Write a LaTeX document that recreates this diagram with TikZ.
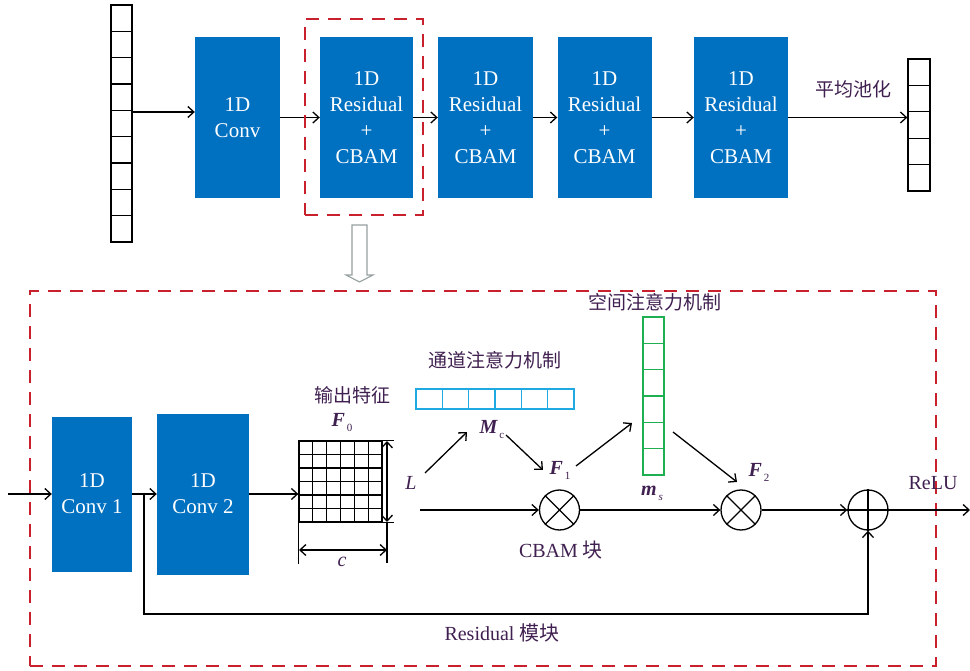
\documentclass[tikz,border=0pt]{standalone}
\usepackage{fontspec}
\setmainfont{Liberation Serif}
\newfontfamily\cjk{Noto Sans CJK SC}
\usetikzlibrary{arrows.meta}
\definecolor{blk}{RGB}{0,112,192}
\definecolor{rd}{RGB}{200,32,44}
\definecolor{pur}{RGB}{64,32,80}
\definecolor{cy}{RGB}{30,170,225}
\definecolor{gr}{RGB}{30,175,80}
\definecolor{gy}{RGB}{150,160,160}
\newcommand{\symlab}[2]{{\bfseries\itshape #1}\hspace{2pt}\raisebox{-5pt}{\fontsize{11}{11}\selectfont #2}}
\begin{document}
\begin{tikzpicture}[x=1pt,y=-1pt,
 block/.style={fill=blk, text=white, inner sep=0pt, align=center, font=\fontsize{21}{26}\selectfont},
 conn/.style={line width=1.3pt, -{Straight Barb[length=6pt,width=11pt]}},
 dimarr/.style={line width=1.3pt, {Straight Barb[length=6pt,width=11pt]}-{Straight Barb[length=6pt,width=11pt]}},
 ln/.style={line width=1.3pt},
 vecbox/.style={draw, line width=1.3pt, inner sep=0pt},
 reddash/.style={draw=rd, line width=1.6pt, dash pattern=on 13pt off 9pt, inner sep=0pt},
 lab/.style={text=pur, inner sep=0pt, font=\fontsize{20}{24}\selectfont},
 cjklab/.style={text=pur, inner sep=0pt, font=\cjk\fontsize{19}{22}\selectfont},
 opc/.style={circle, draw, line width=1.3pt, minimum size=40pt, inner sep=0pt},
]
\useasboundingbox (0,0) rectangle (970,671);

% ---------- top row ----------
\node[vecbox, minimum width=21pt, minimum height=237pt] (vin) at (121.5,123.5) {};
\foreach \i in {1,...,8} \draw[ln] (111,{5+\i*26.33}) -- (132,{5+\i*26.33});

\node[block, minimum width=85pt, minimum height=161pt] (conv) at (237.5,117.5) {1D\\Conv};
\node[block, minimum width=93pt, minimum height=161pt] (res1) at (366.5,117.5) {1D\\Residual\\+\\CBAM};
\node[block, minimum width=95pt, minimum height=161pt] (res2) at (485.5,117.5) {1D\\Residual\\+\\CBAM};
\node[block, minimum width=94pt, minimum height=161pt] (res3) at (604.5,117.5) {1D\\Residual\\+\\CBAM};
\node[block, minimum width=94pt, minimum height=161pt] (res4) at (741,117.5) {1D\\Residual\\+\\CBAM};

\node[vecbox, minimum width=22pt, minimum height=132pt] (vout) at (919,125) {};
\foreach \i in {1,...,4} \draw[ln] (908,{59+\i*26.4}) -- (930,{59+\i*26.4});

\coordinate (vinA) at (132,112);
\draw[conn] (vinA) -- (vinA -| conv.west);
\draw[conn] (conv.east) -- (res1.west);
\draw[conn] (res1.east) -- (res2.west);
\draw[conn] (res2.east) -- (res3.west);
\draw[conn] (res3.east) -- (res4.west);
\draw[conn] (res4.east) -- (res4.east -| vout.west);
\node[cjklab] (pool) at (853,89) {平均池化};

\node[reddash, minimum width=118pt, minimum height=196pt] (sel) at (364,117) {};

% hollow arrow
\draw[gy, line width=1.1pt, line join=miter] (352,225) -- (367,225) -- (367,275) -- (373,275) -- (359.5,282) -- (346,275) -- (352,275) -- cycle;

% ---------- detail ----------
\node[reddash, minimum width=906pt, minimum height=375pt] (detail) at (483,478.5) {};

\node[block, minimum width=80pt, minimum height=155pt] (conv1) at (92,494) {1D\\Conv 1};
\node[block, minimum width=92pt, minimum height=161pt] (conv2) at (203,494) {1D\\Conv 2};

\coordinate (inB) at (8,494);
\draw[conn] (inB) -- (inB -| conv1.west);
\draw[conn] (conv1.east) -- (conv2.west);

% grid F0
\node[draw, line width=1.3pt, minimum width=83pt, minimum height=81pt, inner sep=0pt] (grid) at (340.5,481.5) {};
\foreach \i in {1,...,5} {
  \draw[ln] ({299+\i*13.83},441) -- ({299+\i*13.83},522);
  \draw[ln] (299,{441+\i*13.5}) -- (382,{441+\i*13.5});
}
\draw[conn] (conv2.east) -- (conv2.east -| grid.west);
\draw[ln] (grid.north east) -- ++(11,0);
\draw[ln] (grid.south east) -- ++(11,0);
\draw[ln] (grid.south west) -- ++(0,41);
\draw[ln] (387,522) -- (387,563);
\draw[dimarr] (387,441) -- (387,522);
\draw[dimarr] (299,550) -- (387,550);

\node[cjklab] (outf) at (352,395) {输出特征};
\node[lab] (F0) at (342,423) {\symlab{F}{0}};
\node[lab, font=\fontsize{20}{24}\selectfont\itshape] (Lb) at (411,483) {L};
\node[lab, font=\fontsize{20}{24}\selectfont\itshape] (cb) at (342,562) {c};

% channel attention vector
\node[draw=cy, line width=1.4pt, minimum width=158pt, minimum height=20pt, inner sep=0pt] (cav) at (495,399) {};
\foreach \i in {1,...,5} \draw[cy, line width=1.4pt] ({416+\i*26.33},389) -- ({416+\i*26.33},409);
\node[cjklab] (cat) at (495,360) {通道注意力机制};

% spatial attention vector
\node[draw=gr, line width=1.4pt, minimum width=21pt, minimum height=158pt, inner sep=0pt] (sav) at (653.5,396) {};
\foreach \i in {1,...,5} \draw[gr, line width=1.4pt] (643,{317+\i*26.33}) -- (664,{317+\i*26.33});
\node[cjklab] (sat) at (655,302) {空间注意力机制};

% operators
\node[opc] (m1) at (559.5,510) {};
\node[opc] (m2) at (741,510) {};
\node[opc] (m3) at (868,510) {};
\draw[ln] (m1.north west) -- (m1.south east) (m1.north east) -- (m1.south west);
\draw[ln] (m2.north west) -- (m2.south east) (m2.north east) -- (m2.south west);
\draw[ln] (m3.north) -- (m3.south) (m3.west) -- (m3.east);

\coordinate (gout) at (420,510);
\draw[conn] (gout) -- (m1.west);
\draw[conn] (m1.east) -- (m2.west);
\draw[conn] (m2.east) -- (m3.west);
\coordinate (outR) at (970,510);
\draw[conn] (m3.east) -- (outR);

% residual branch
\coordinate (br) at (144,494);
\coordinate (resc) at (868,614);
\draw[conn] (br) |- (resc) -- (m3.south);

% diagonal arrows
\coordinate (a1s) at (425,473); \coordinate (a1e) at (467,432);
\coordinate (a2s) at (506,435); \coordinate (a2e) at (543,470);
\coordinate (a3s) at (576,466); \coordinate (a3e) at (632,423);
\coordinate (a4s) at (673,432); \coordinate (a4e) at (737,482);
\draw[conn] (a1s) -- (a1e);
\draw[conn] (a2s) -- (a2e);
\draw[conn] (a3s) -- (a3e);
\draw[conn] (a4s) -- (a4e);

\node[lab] (Mc) at (492,430) {\symlab{M}{c}};
\node[lab] (F1) at (560,470) {\symlab{F}{1}};
\node[lab] (F2) at (759,472) {\symlab{F}{2}};
\node[lab] (ms) at (652,493) {{\bfseries\itshape m}\hspace{2pt}\raisebox{-5pt}{\fontsize{11}{11}\selectfont\itshape s}};

\node[lab] (cbam) at (561,550) {CBAM {\cjk 块}};
\node[lab] (resl) at (502,633) {Residual {\cjk 模块}};
\node[lab] (relu) at (933,483) {ReLU};
\end{tikzpicture}
\end{document}
